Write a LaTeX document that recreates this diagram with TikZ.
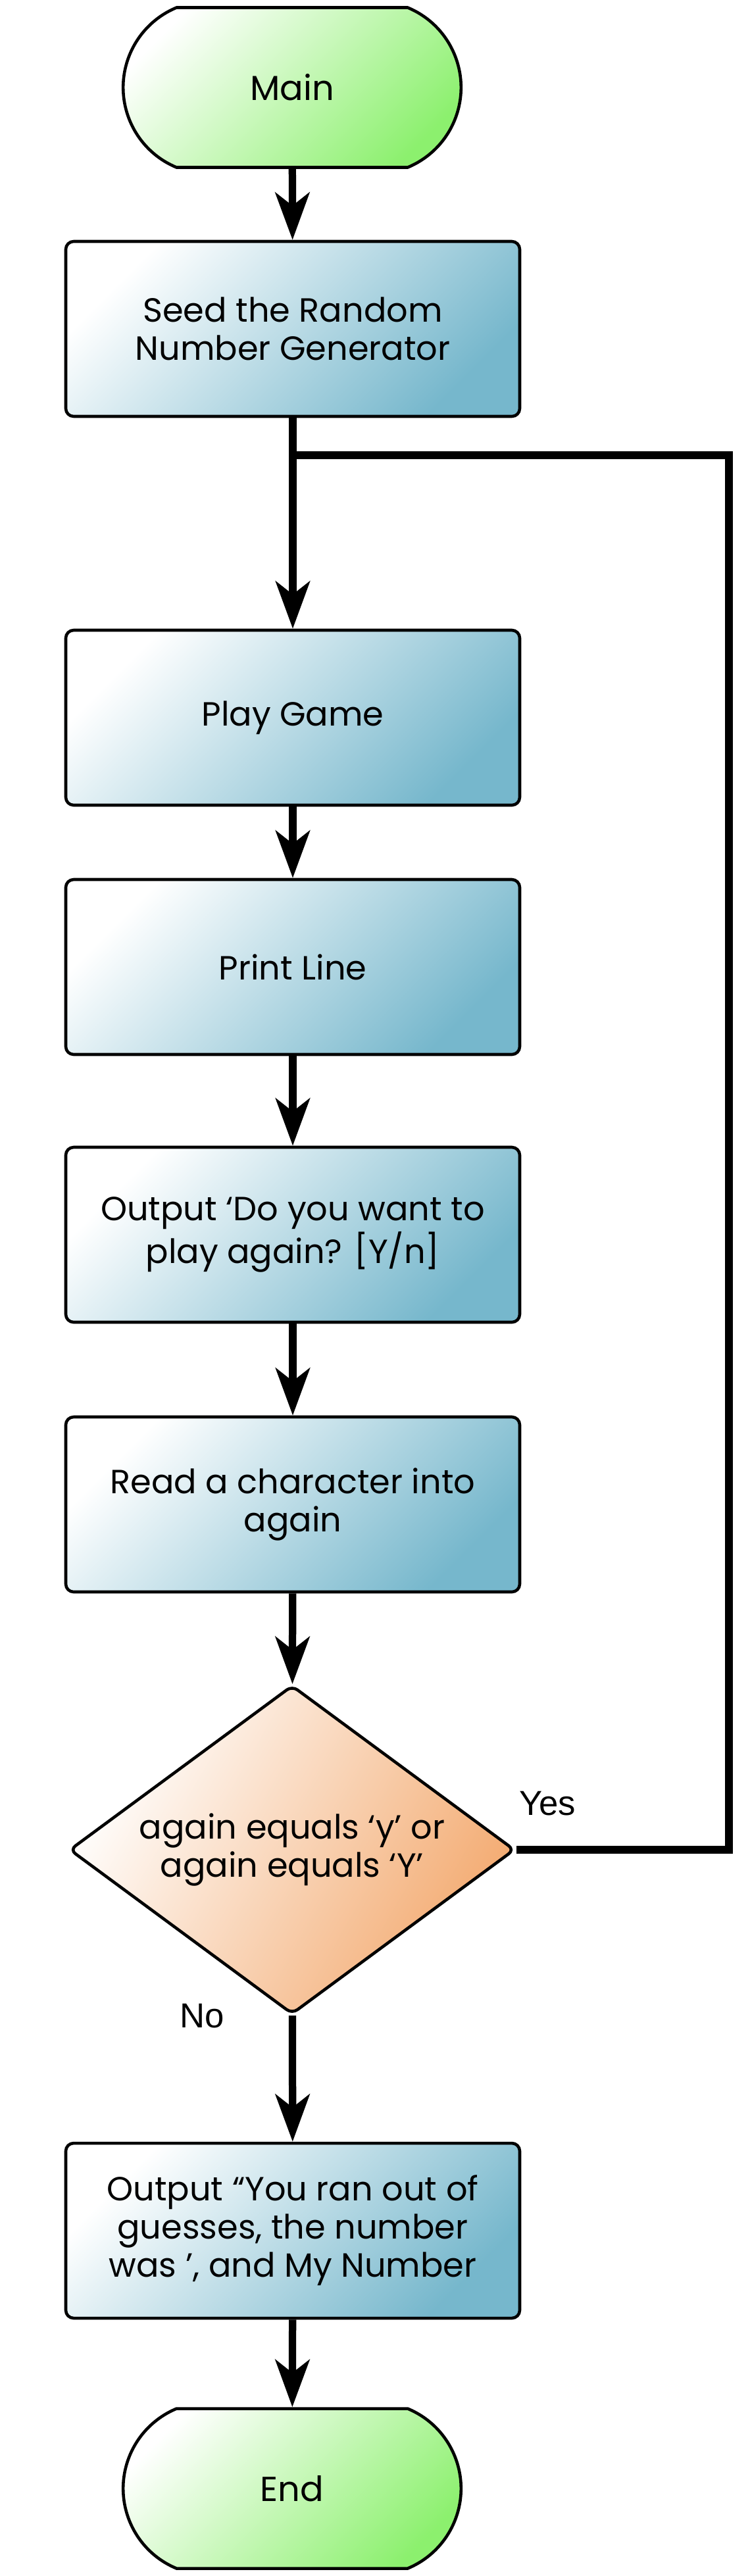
\documentclass[tikz,border=0pt]{standalone}
\usepackage{fontspec}
\setmainfont{Poppins}
\newfontfamily\labelfont{Liberation Sans}
\usepackage{tikz}
\usetikzlibrary{arrows.meta}
\usetikzlibrary{positioning}
\usetikzlibrary{shapes.geometric, shapes.misc}

\definecolor{boxblue}{RGB}{118,183,204}
\definecolor{termgreen}{RGB}{140,240,110}
\definecolor{decorange}{RGB}{243,170,112}

\tikzset{
  process/.style={rectangle, rounded corners=0.12cm, draw=black, line width=1.3pt,
    minimum width=6.9cm, minimum height=2.66cm, align=center,
    top color=white, bottom color=boxblue, shading angle=45,
    font=\fontsize{14.5}{16.5}\selectfont},
  terminal/.style={rounded rectangle, rounded rectangle arc length=135, draw=black, line width=1.3pt,
    minimum width=5.37cm, minimum height=2.43cm, align=center,
    top color=white, bottom color=termgreen, shading angle=45,
    font=\fontsize{15}{17}\selectfont},
  decision/.style={diamond, rounded corners=0.1cm, draw=black, line width=1.3pt,
    minimum width=6.77cm, minimum height=5cm, inner sep=0pt, aspect=1.35, align=center,
    top color=white, bottom color=decorange, shading angle=60,
    font=\fontsize{14.5}{16.5}\selectfont},
  flow/.style={line width=3.2pt, -{Stealth[length=0.72cm,width=0.52cm,inset=0.2cm]}},
  loopline/.style={line width=3.2pt},
  answer/.style={font=\labelfont\fontsize{15}{17}\selectfont},
}

\begin{document}
\begin{tikzpicture}
\useasboundingbox (0,0) rectangle (11.4,-39.16);

\node[terminal] (main) at (4.44,-1.33) {Main};
\node[process] (seed) at (4.45,-5.0) {Seed the Random\\Number Generator};
\node[process] (play) at (4.45,-10.91) {Play Game};
\node[process] (line) at (4.45,-14.70) {Print Line};
\node[process] (ask) at (4.45,-18.77) {Output ‘Do you want to\\play again? [Y/n]};
\node[process] (read) at (4.45,-22.87) {Read a character into\\again};
\node[decision] (check) at (4.44,-28.12) {again equals ‘y’ or\\again equals ‘Y’};
\node[process] (lose) at (4.45,-33.91) {Output “You ran out of\\guesses, the number\\was ’, and My Number};
\node[terminal] (finish) at (4.44,-37.83) {End};

\coordinate (split) at (4.45,-6.92);
\coordinate (back) at (11.08,-6.92);

\draw[flow] (main) -- (seed);
\draw[flow] (seed) -- (play);
\draw[flow] (play) -- (line);
\draw[flow] (line) -- (ask);
\draw[flow] (ask) -- (read);
\draw[flow] (read) -- (check);
\draw[flow] (check) -- (lose);
\draw[flow] (lose) -- (finish);
\draw[loopline] (check.east) -| (back) -- (split);

\node[answer] (yes) at (8.32,-27.42) {Yes};
\node[answer] (no) at (3.07,-30.65) {No};

\end{tikzpicture}
\end{document}
